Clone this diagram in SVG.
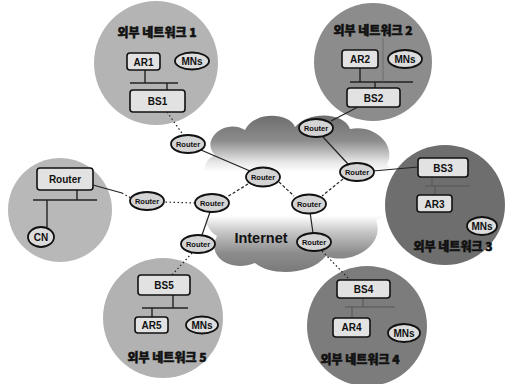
<svg xmlns="http://www.w3.org/2000/svg" width="509" height="384" viewBox="0 0 509 384">
<style>
.kr{font-family:"Noto Sans CJK KR","Liberation Sans",sans-serif;font-weight:900;font-size:12px;fill:#111;stroke:#111;stroke-width:0.5;text-anchor:middle}
.lbl{font-family:"Liberation Sans",Arial,sans-serif;font-weight:bold;font-size:10px;fill:#111;text-anchor:middle}
.rt{font-family:"Liberation Sans",Arial,sans-serif;font-weight:bold;font-size:7.5px;fill:#111;text-anchor:middle}
.box{fill:#e2e2e2;stroke:#111;stroke-width:1.6}
.mn{fill:#dcdcdc;stroke:#111;stroke-width:1.8}
.router{fill:#d4d4d4;stroke:#111;stroke-width:1.8}
.bus{stroke:#222;stroke-width:1.4;fill:none}
.c{stroke:#222;stroke-width:1.2;fill:none}
.dash{stroke-dasharray:3 2}
.dot{stroke-dasharray:1.5 2.5}
</style>
<defs>
<linearGradient id="cloudG" x1="0" y1="0" x2="0" y2="1">
<stop offset="0" stop-color="#6e6e6e"/>
<stop offset="0.16" stop-color="#8c8c8c"/>
<stop offset="0.3" stop-color="#e8e8e8"/>
<stop offset="0.36" stop-color="#ffffff"/>
<stop offset="0.64" stop-color="#ffffff"/>
<stop offset="0.74" stop-color="#c8c8c8"/>
<stop offset="0.88" stop-color="#8c8c8c"/>
<stop offset="1" stop-color="#7a7a7a"/>
</linearGradient>
</defs>
<rect width="509" height="384" fill="#ffffff"/>

<g id="cloud">
<path d="M215 155 C200 140 225 118 245 130 C255 110 290 113 295 127 C310 110 345 113 350 129 C375 124 397 145 387 165 C405 182 398 215 376 220 C386 246 350 266 326 256 C310 276 270 276 255 263 C230 273 206 256 217 236 C200 226 200 196 215 186 C200 176 202 161 215 155 Z" fill="url(#cloudG)"/>
<text x="261" y="243" font-family="Liberation Sans,Arial,sans-serif" font-weight="bold" font-size="14.5" fill="#111" text-anchor="middle">Internet</text>
</g>

<g id="net1">
<circle cx="156" cy="63" r="62" fill="#b4b4b4"/>
<text class="kr" x="157" y="37">외부 네트워크 1</text>
<path class="bus" d="M145 70V83M130 83H178M167 83V90"/>
<rect class="box" x="127" y="53" width="33" height="17" rx="3"/>
<text class="lbl" x="143.5" y="65.5">AR1</text>
<ellipse class="mn" cx="192" cy="61" rx="17" ry="8.5"/>
<text class="lbl" x="192" y="64.5" font-size="9">MNs</text>
<rect class="box" x="130" y="90" width="55" height="22" rx="3"/>
<text class="lbl" x="157.5" y="104.5">BS1</text>
</g>

<g id="net2">
<circle cx="373" cy="62" r="59" fill="#8c8c8c"/>
<text class="kr" x="373" y="35">외부 네트워크 2</text>
<path class="bus" d="M360 68V82M350 82H413M375 82V88"/>
<path d="M383 38V82" stroke="#666" stroke-width="0.8"/>
<rect class="box" x="342" y="50" width="36" height="18" rx="3" fill="#c8c8c8"/>
<text class="lbl" x="360" y="63">AR2</text>
<ellipse class="mn" cx="405" cy="59" rx="17" ry="9"/>
<text class="lbl" x="405" y="62.5" font-size="9">MNs</text>
<rect class="box" x="347" y="88" width="53" height="19" rx="3"/>
<text class="lbl" x="373.5" y="101.5">BS2</text>
</g>

<g id="net3">
<circle cx="445" cy="205" r="60" fill="#6e6e6e"/>
<path d="M432 177V186M425 186H470M435 186V195" stroke="#555" stroke-width="1"/>
<rect class="box" x="418" y="158" width="50" height="19" rx="3" fill="#cfcfcf"/>
<text class="lbl" x="443" y="171.5">BS3</text>
<rect class="box" x="417" y="195" width="35" height="17" rx="3" fill="#b8b8b8"/>
<text class="lbl" x="434.5" y="207.5">AR3</text>
<ellipse class="mn" cx="482" cy="226" rx="15" ry="9" fill="#c0c0c0"/>
<text class="lbl" x="482" y="229.5" font-size="9">MNs</text>
<text class="kr" x="453" y="251">외부 네트워크 3</text>
</g>

<g id="cnnet">
<circle cx="60" cy="210" r="52" fill="#b8b8b8"/>
<path class="bus" d="M77 190V200M33 200H97M47 200V227"/>
<rect class="box" x="37" y="168" width="56" height="22" rx="3"/>
<text class="lbl" x="65" y="182.5">Router</text>
<ellipse class="mn" cx="41" cy="237" rx="13" ry="10"/>
<text class="lbl" x="41" y="240.5">CN</text>
</g>

<g id="net5">
<circle cx="163" cy="318" r="60" fill="#b2b2b2"/>
<path class="bus" d="M173 295V308M142 308H188M152 308V317"/>
<rect class="box" x="138" y="275" width="52" height="20" rx="3"/>
<text class="lbl" x="164" y="289">BS5</text>
<rect class="box" x="135" y="317" width="33" height="16" rx="3"/>
<text class="lbl" x="151.5" y="329">AR5</text>
<ellipse class="mn" cx="202" cy="325" rx="16" ry="8.5"/>
<text class="lbl" x="202" y="328.5" font-size="9">MNs</text>
<text class="kr" x="167" y="362">외부 네트워크 5</text>
</g>

<g id="net4">
<circle cx="367" cy="326" r="60" fill="#7c7c7c"/>
<path d="M363 297V307M345 307H395M352 307V318" stroke="#555" stroke-width="1"/>
<rect class="box" x="337" y="280" width="53" height="18" rx="3" fill="#d6d6d6"/>
<text class="lbl" x="363.5" y="293">BS4</text>
<rect class="box" x="333" y="318" width="37" height="19" rx="3" fill="#c2c2c2"/>
<text class="lbl" x="351.5" y="331">AR4</text>
<ellipse class="mn" cx="404" cy="333" rx="16" ry="9" fill="#c8c8c8"/>
<text class="lbl" x="404" y="336.5" font-size="9">MNs</text>
<text class="kr" x="360" y="364">외부 네트워크 4</text>
</g>

<g id="connectors">
<path class="c dot" d="M167 112L184 136"/>
<path class="c" d="M201 150L250 171"/>
<path class="c" d="M331 121L358 107"/>
<path class="c" d="M323 137L348 164"/>
<path class="c" d="M373 171L418 167"/>
<path class="c dash" d="M343 179L322 196"/>
<path class="c dash" d="M279 182L294 196"/>
<path class="c dash" d="M248 184L227 197"/>
<path class="c dot" d="M195 203L164 202"/>
<path class="c" d="M93 185L122 193"/>
<path class="c dot" d="M122 193L131 198"/>
<path class="c" d="M210 212L202 235"/>
<path class="c dot" d="M192 253L172 275"/>
<path class="c" d="M310 212L313 233"/>
<path class="c dot" d="M322 251L350 280"/>
</g>

<g id="r1"><ellipse class="router" cx="188" cy="144" rx="17" ry="9"/><text class="rt" x="188" y="146.7">Router</text></g>
<g id="r2"><ellipse class="router" cx="316" cy="128" rx="17" ry="9"/><text class="rt" x="316" y="130.7">Router</text></g>
<g id="r3"><ellipse class="router" cx="357" cy="172" rx="17" ry="9"/><text class="rt" x="357" y="174.7">Router</text></g>
<g id="r4"><ellipse class="router" cx="263" cy="177" rx="17" ry="9.5"/><text class="rt" x="263" y="179.7">Router</text></g>
<g id="r5"><ellipse class="router" cx="212" cy="203" rx="17" ry="9"/><text class="rt" x="212" y="205.7">Router</text></g>
<g id="r6"><ellipse class="router" cx="309" cy="204" rx="17" ry="9.5"/><text class="rt" x="309" y="206.7">Router</text></g>
<g id="r7"><ellipse class="router" cx="198" cy="244" rx="17" ry="9"/><text class="rt" x="198" y="246.7">Router</text></g>
<g id="r8"><ellipse class="router" cx="314" cy="242" rx="17" ry="9"/><text class="rt" x="314" y="244.7">Router</text></g>
<g id="r9"><ellipse class="router" cx="147" cy="201" rx="17" ry="9"/><text class="rt" x="147" y="203.7">Router</text></g>
</svg>
